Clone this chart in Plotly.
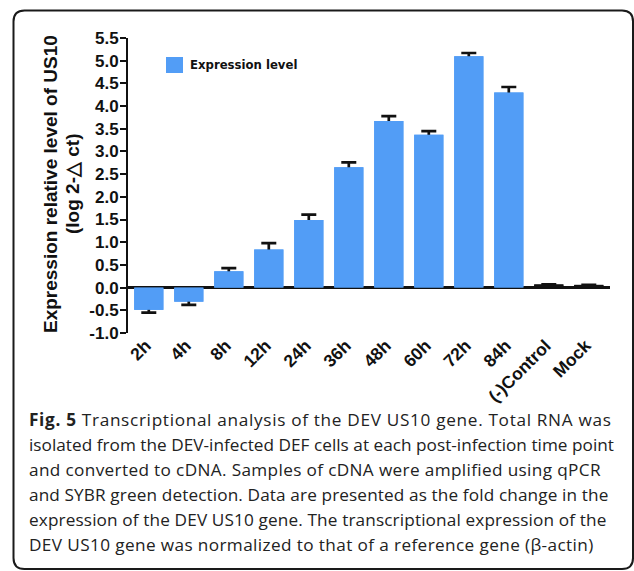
import plotly.graph_objects as go

categories = ["2h", "4h", "8h", "12h", "24h", "36h", "48h", "60h", "72h", "84h", "(-)Control", "Mock"]
values = [-0.49, -0.31, 0.36, 0.84, 1.49, 2.65, 3.67, 3.37, 5.10, 4.30, 0.07, 0.06]
errors = [0.06, 0.07, 0.07, 0.14, 0.12, 0.11, 0.11, 0.08, 0.07, 0.12, 0.0, 0.0]
ytick_vals = [-1.0, -0.5, 0.0, 0.5, 1.0, 1.5, 2.0, 2.5, 3.0, 3.5, 4.0, 4.5, 5.0, 5.5]
ytick_text = ["-1.0", "-0.5", "0.0", "0.5", "1.0", "1.5", "2.0", "2.5", "3.0", "3.5", "4.0", "4.5", "5.0", "5.5"]
series_name = "Expression level"
ytitle_lines = ["Expression relative level of US10", "(log 2-\u25b3 ct)"]
caption_lines = [
    "<b>Fig. 5</b> Transcriptional analysis of the DEV US10 gene. Total RNA was",
    "isolated from the DEV-infected DEF cells at each post-infection time point",
    "and converted to cDNA. Samples of cDNA were amplified using qPCR",
    "and SYBR green detection. Data are presented as the fold change in the",
    "expression of the DEV US10 gene. The transcriptional expression of the",
    "DEV US10 gene was normalized to that of a reference gene (\u03b2-actin)",
]
# per-line letter spacing (px) used to mimic the original typeface's widths
caption_spacing = [0.68, 0.02, 0.35, 0.12, 0.13, 0.38]

W, H = 634, 571
L, R, T, B = 128, 24, 38, 238
PW, PH = W - L - R, H - T - B

def px(x):
    return (x - L) / PW

def py(y):
    return (H - B - y) / PH

BLUE = "#529DF6"
colors = [BLUE if c not in ("(-)Control", "Mock") else "#111111" for c in categories]

AX_FONT = dict(family="Liberation Sans, Arial, sans-serif", size=17, color="#111111")

fig = go.Figure()
fig.add_trace(go.Bar(
    x=categories, y=values, name=series_name, width=0.73,
    marker=dict(color=colors, line=dict(width=0)),
    error_y=dict(type="data", array=errors, color="#111111", thickness=2.7, width=7.5),
    showlegend=False, hoverinfo="skip",
))
fig.add_trace(go.Bar(
    x=categories, y=values, name=series_name, width=0.73,
    marker=dict(color=colors, line=dict(width=0)),
    showlegend=False,
))

fig.update_layout(
    width=W, height=H,
    margin=dict(l=L, r=R, t=T, b=B, pad=0),
    paper_bgcolor="white", plot_bgcolor="white",
    font=AX_FONT,
    barmode="overlay",
    xaxis=dict(range=[-0.52, 11.53], showline=False, showgrid=False, zeroline=False,
               tickangle=-45, tickfont=dict(AX_FONT, size=17.5),
               ticks="", ticklabelstandoff=-2, ticklabelshift=-3,
               tickprefix="<b>", ticksuffix="</b>", fixedrange=True),
    yaxis=dict(range=[-1.0, 5.5], tickvals=ytick_vals,
               ticktext=["<b>%s</b>" % t for t in ytick_text],
               showline=True, linecolor="#111111", linewidth=2,
               ticks="outside", ticklen=6, tickwidth=2, tickcolor="#111111",
               ticklabelstandoff=-2,
               showgrid=False, zeroline=True, zerolinecolor="#111111", zerolinewidth=2.5,
               tickfont=AX_FONT, fixedrange=True),
)

annotations = []
for txt, xc in zip(ytitle_lines, [50, 72]):
    annotations.append(dict(xref="paper", yref="paper", x=px(xc), y=py(184), text="<b>%s</b>" % txt,
                            textangle=-90, showarrow=False, xanchor="center", yanchor="middle",
                            font=dict(family="Liberation Sans, Arial, sans-serif", size=19, color="#111111")))
annotations.append(dict(xref="paper", yref="paper", x=px(188), y=py(65), text="<b>%s</b>" % series_name,
                        showarrow=False, xanchor="left", yanchor="middle",
                        font=dict(family="DejaVu Sans, Verdana, sans-serif", size=11.7, color="#111111")))
for i, (line, sp) in enumerate(zip(caption_lines, caption_spacing)):
    annotations.append(dict(xref="paper", yref="paper", x=px(27), y=py(419 + 25 * i),
                            text='<span style="letter-spacing:%.2fpx">%s</span>' % (sp, line),
                            showarrow=False, xanchor="left", yanchor="middle",
                            font=dict(family="Open Sans, Noto Sans, sans-serif", size=17.2, color="#222222")))
fig.update_layout(annotations=annotations)

shapes = []
shapes.append(dict(type="rect", xref="paper", yref="paper", x0=px(166), x1=px(183), y0=py(57), y1=py(73),
                   fillcolor=BLUE, line=dict(width=0)))
r = 11
x0, x1, y0, y1 = 13.5, 633, 10.5, 569
pts = [
    ("M", x0, y1 - r), ("L", x0, y0 + r), ("Q", x0, y0, x0 + r, y0), ("L", x1 - r, y0),
    ("Q", x1, y0, x1, y0 + r), ("L", x1, y1 - r), ("Q", x1, y1, x1 - r, y1), ("L", x0 + r, y1),
    ("Q", x0, y1, x0, y1 - r),
]
path = ""
for p in pts:
    coords = p[1:]
    s = " ".join("%.5f,%.5f" % (px(coords[k]), py(coords[k + 1])) for k in range(0, len(coords), 2))
    path += "%s %s " % (p[0], s)
path += "Z"
shapes.append(dict(type="path", xref="paper", yref="paper", path=path,
                   line=dict(color="#1a1a1a", width=2), fillcolor="rgba(0,0,0,0)"))
fig.update_layout(shapes=shapes)

fig.write_html("out.html", config={"displayModeBar": False},
               post_script="document.body.style.margin='0';")
